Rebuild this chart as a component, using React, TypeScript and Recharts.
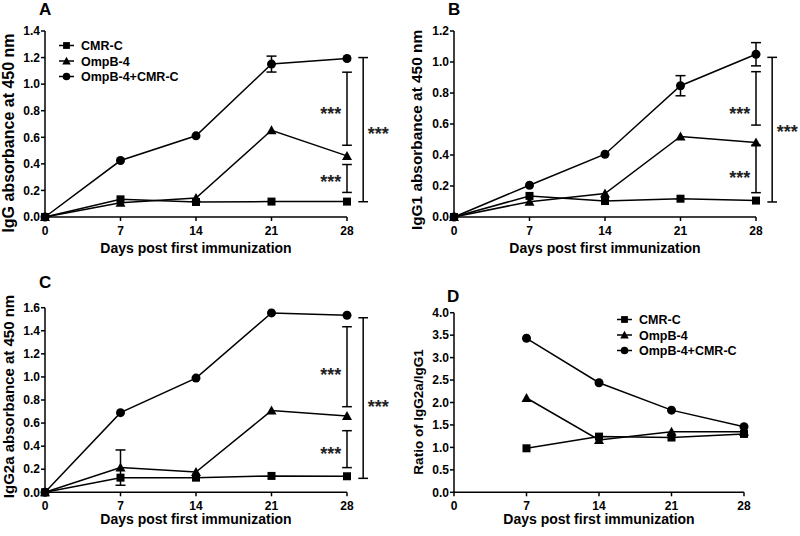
import { LineChart, Line, XAxis, YAxis, ErrorBar, ReferenceLine, ReferenceDot, Legend, Label } from "recharts"

const FONT = '"Liberation Sans", Arial, Helvetica, sans-serif'

const days = [0, 7, 14, 21, 28]
const ratioDays = [7, 14, 21, 28]
const dayTicks = [0, 7, 14, 21, 28]
const groupNames = ["CMR-C", "OmpB-4", "OmpB-4+CMR-C"]

// A - IgG
const iggCmr = [0, 0.133, 0.113, 0.116, 0.116]
const iggOmp = [0, 0.108, 0.143, 0.653, 0.46]
const iggCombo = [0, 0.425, 0.611, 1.151, 1.193]
const iggComboErr = [null, null, null, 0.06, null]
const iggTicks = [0, 0.2, 0.4, 0.6, 0.8, 1.0, 1.2, 1.4]

// B - IgG1
const igg1Cmr = [0, 0.136, 0.103, 0.118, 0.106]
const igg1Omp = [0, 0.099, 0.151, 0.52, 0.48]
const igg1Combo = [0, 0.205, 0.405, 0.847, 1.05]
const igg1ComboErr = [null, null, null, 0.065, 0.075]
const igg1Ticks = [0, 0.2, 0.4, 0.6, 0.8, 1.0, 1.2]

// C - IgG2a
const igg2aCmr = [0, 0.127, 0.127, 0.142, 0.139]
const igg2aOmp = [0, 0.214, 0.176, 0.708, 0.661]
const igg2aOmpErr = [null, 0.153, null, null, null]
const igg2aCombo = [0, 0.69, 0.99, 1.555, 1.535]
const igg2aTicks = [0, 0.2, 0.4, 0.6, 0.8, 1.0, 1.2, 1.4, 1.6]

// D - IgG2a/IgG1 ratio
const ratioCmr = [0.98, 1.24, 1.22, 1.3]
const ratioOmp = [2.1, 1.165, 1.35, 1.35]
const ratioCombo = [3.43, 2.44, 1.83, 1.46]
const ratioTicks = [0, 0.5, 1.0, 1.5, 2.0, 2.5, 3.0, 3.5, 4.0]

// significance brackets: [x, top, bottom] and star labels: [x, y]
const iggBrackets = [[28, 1.09, 0.54], [28, 0.395, 0.185], [29.5, 1.2, 0.115]]
const iggStars = [[26.5, 0.807], [26.5, 0.293], [30.9, 0.657]]
const igg1Brackets = [[28, 0.9375, 0.593], [28, 0.463, 0.157], [29.5, 1.03, 0.097]]
const igg1Stars = [[26.5, 0.69], [26.5, 0.276], [30.9, 0.571]]
const igg2aBrackets = [[28, 1.435, 0.742], [28, 0.534, 0.214], [29.5, 1.513, 0.121]]
const igg2aStars = [[26.5, 1.051], [26.5, 0.367], [30.9, 0.771]]

type Kind = "cmr" | "omp" | "combo"

function Marker({ kind, cx, cy, s = 1 }: { kind: Kind; cx: number; cy: number; s?: number }) {
  if (kind === "cmr") return <rect x={cx - 4 * s} y={cy - 4 * s} width={8 * s} height={8 * s} fill="#000" />
  if (kind === "omp")
    return <polygon points={`${cx},${cy - 5 * s} ${cx + 5 * s},${cy + 4 * s} ${cx - 5 * s},${cy + 4 * s}`} fill="#000" />
  return <circle cx={cx} cy={cy} r={4.5 * s} fill="#000" />
}

function LegendBox({ payload }: any) {
  return (
    <svg width={160} height={48} style={{ overflow: "visible", display: "block" }}>
      {(payload || []).map((e: any, i: number) => {
        const cy = 7.5 + i * 15.5
        return (
          <g key={e.value}>
            <line x1={0} x2={15} y1={cy} y2={cy} stroke="#000" strokeWidth={1.5} />
            <Marker kind={e.dataKey as Kind} cx={7.5} cy={cy} s={0.85} />
            <text x={22} y={cy + 4.5} fontSize={12.5} fontWeight={700} fontFamily={FONT} fill="#000">
              {e.value}
            </text>
          </g>
        )
      })}
    </svg>
  )
}

type PanelProps = {
  left: number
  top: number
  height: number
  margin: { top: number; right: number; bottom: number; left: number }
  yWidth: number
  yTicks: number[]
  yTitle: string
  yTitleX: number
  yTitleY: number
  yTitleSize: number
  xTitleDy: number
  xs: number[]
  cmr: number[]
  omp: number[]
  combo: number[]
  ompErr?: (number | null)[]
  comboErr?: (number | null)[]
  brackets?: number[][]
  stars?: number[][]
  legendPos?: { left: number; top: number }
}

function Panel(p: PanelProps) {
  const rows = p.xs.map((d, i) => ({
    day: d,
    cmr: p.cmr[i],
    omp: p.omp[i],
    combo: p.combo[i],
    ompErr: p.ompErr ? p.ompErr[i] : null,
    comboErr: p.comboErr ? p.comboErr[i] : null,
  }))
  const yMax = p.yTicks[p.yTicks.length - 1]
  const axisStyle = { stroke: "#000", strokeWidth: 1.5 }
  const tickStyle = { fill: "#000", fontSize: 12, fontWeight: 700, fontFamily: FONT }
  const dotFor = (kind: Kind) => (d: any) =>
    d.cx == null || d.cy == null ? <g key={`${kind}-${d.index}`} /> : <Marker key={`${kind}-${d.index}`} kind={kind} cx={d.cx} cy={d.cy} />
  const cap = 0.45

  return (
    <div style={{ position: "absolute", left: p.left, top: p.top }}>
      <LineChart width={400} height={p.height} data={rows} margin={p.margin}>
        <XAxis
          type="number"
          dataKey="day"
          domain={[0, 28]}
          ticks={dayTicks}
          interval={0}
          height={40}
          tickSize={4}
          tickMargin={5}
          axisLine={axisStyle}
          tickLine={axisStyle}
          tick={tickStyle}
        >
          <Label
            content={(lp: any) => {
              const vb = lp.viewBox
              return (
                <text x={vb.x + vb.width / 2} y={vb.y + p.xTitleDy} textAnchor="middle" fontSize={14} fontWeight={700} fontFamily={FONT} fill="#000">
                  Days post first immunization
                </text>
              )
            }}
          />
        </XAxis>
        <YAxis
          type="number"
          domain={[0, yMax]}
          ticks={p.yTicks}
          interval={0}
          width={p.yWidth}
          tickSize={4}
          tickMargin={1}
          axisLine={axisStyle}
          tickLine={axisStyle}
          tick={tickStyle}
          tickFormatter={(v: number) => v.toFixed(1)}
        >
          <Label
            content={() => (
              <text
                x={p.yTitleX}
                y={p.yTitleY}
                transform={`rotate(-90, ${p.yTitleX}, ${p.yTitleY})`}
                textAnchor="middle"
                fontSize={p.yTitleSize}
                fontWeight={700}
                fontFamily={FONT}
                fill="#000"
              >
                {p.yTitle}
              </text>
            )}
          />
        </YAxis>

        {(p.brackets || []).flatMap(([bx, y1, y2], i) => [
          <ReferenceLine key={`bv${i}`} segment={[{ x: bx, y: y1 }, { x: bx, y: y2 }]} stroke="#000" strokeWidth={1.5} ifOverflow="visible" />,
          <ReferenceLine key={`bt${i}`} segment={[{ x: bx - cap, y: y1 }, { x: bx + cap, y: y1 }]} stroke="#000" strokeWidth={1.5} ifOverflow="visible" />,
          <ReferenceLine key={`bb${i}`} segment={[{ x: bx - cap, y: y2 }, { x: bx + cap, y: y2 }]} stroke="#000" strokeWidth={1.5} ifOverflow="visible" />,
        ])}
        {(p.stars || []).map(([sx, sy], i) => (
          <ReferenceDot
            key={`s${i}`}
            x={sx}
            y={sy}
            r={0}
            ifOverflow="visible"
            shape={(sp: any) => (
              <text x={sp.cx} y={sp.cy + 10} textAnchor="middle" fontSize={18} fontWeight={700} fontFamily={FONT} fill="#222">
                ***
              </text>
            )}
          />
        ))}

        <Line dataKey="cmr" name={groupNames[0]} stroke="#000" strokeWidth={1.5} dot={dotFor("cmr")} activeDot={false} isAnimationActive={false} />
        <Line dataKey="omp" name={groupNames[1]} stroke="#000" strokeWidth={1.5} dot={dotFor("omp")} activeDot={false} isAnimationActive={false}>
          {p.ompErr && <ErrorBar dataKey="ompErr" direction="y" width={5} stroke="#000" strokeWidth={1.5} />}
        </Line>
        <Line dataKey="combo" name={groupNames[2]} stroke="#000" strokeWidth={1.5} dot={dotFor("combo")} activeDot={false} isAnimationActive={false}>
          {p.comboErr && <ErrorBar dataKey="comboErr" direction="y" width={5} stroke="#000" strokeWidth={1.5} />}
        </Line>

        {p.legendPos && (
          <Legend
            layout="horizontal"
            verticalAlign="middle"
            align="center"
            wrapperStyle={{ left: p.legendPos.left, top: p.legendPos.top, width: 160, height: 48 }}
            content={(lp: any) => <LegendBox payload={lp.payload} />}
          />
        )}
      </LineChart>
    </div>
  )
}

export default function App() {
  const letter = (ch: string, left: number, top: number) => (
    <div style={{ position: "absolute", left, top, fontSize: 17, fontWeight: 700, lineHeight: 1, fontFamily: FONT, color: "#000" }}>{ch}</div>
  )
  return (
    <div style={{ position: "absolute", left: 0, top: 0, width: 800, height: 536, background: "#fff", fontFamily: FONT }}>
      <Panel
        left={0}
        top={0}
        height={260}
        margin={{ top: 31, right: 53, bottom: 3, left: 0 }}
        yWidth={45}
        yTicks={iggTicks}
        yTitle="IgG absorbance at 450 nm"
        yTitleX={14}
        yTitleY={133}
        yTitleSize={16}
        xTitleDy={36}
        xs={days}
        cmr={iggCmr}
        omp={iggOmp}
        combo={iggCombo}
        comboErr={iggComboErr}
        brackets={iggBrackets}
        stars={iggStars}
        legendPos={{ left: 59, top: 37.5 }}
      />
      <Panel
        left={400}
        top={0}
        height={260}
        margin={{ top: 31, right: 44, bottom: 3, left: 0 }}
        yWidth={54}
        yTicks={igg1Ticks}
        yTitle="IgG1 absorbance at 450 nm"
        yTitleX={22}
        yTitleY={130}
        yTitleSize={15.4}
        xTitleDy={36}
        xs={days}
        cmr={igg1Cmr}
        omp={igg1Omp}
        combo={igg1Combo}
        comboErr={igg1ComboErr}
        brackets={igg1Brackets}
        stars={igg1Stars}
      />
      <Panel
        left={0}
        top={260}
        height={276}
        margin={{ top: 47.7, right: 53, bottom: 3.7, left: 0 }}
        yWidth={45}
        yTicks={igg2aTicks}
        yTitle="IgG2a absorbance at 450 nm"
        yTitleX={14}
        yTitleY={136.5}
        yTitleSize={15}
        xTitleDy={32}
        xs={days}
        cmr={igg2aCmr}
        omp={igg2aOmp}
        combo={igg2aCombo}
        ompErr={igg2aOmpErr}
        brackets={igg2aBrackets}
        stars={igg2aStars}
      />
      <Panel
        left={400}
        top={260}
        height={276}
        margin={{ top: 52.7, right: 56, bottom: 3.7, left: 0 }}
        yWidth={54}
        yTicks={ratioTicks}
        yTitle="Ratio of IgG2a/IgG1"
        yTitleX={22.5}
        yTitleY={152}
        yTitleSize={13.5}
        xTitleDy={32}
        xs={ratioDays}
        cmr={ratioCmr}
        omp={ratioOmp}
        combo={ratioCombo}
        legendPos={{ left: 216.7, top: 51.5 }}
      />
      {letter("A", 39, 0.6)}
      {letter("B", 448, 0.6)}
      {letter("C", 39, 273.6)}
      {letter("D", 447, 287.6)}
    </div>
  )
}
